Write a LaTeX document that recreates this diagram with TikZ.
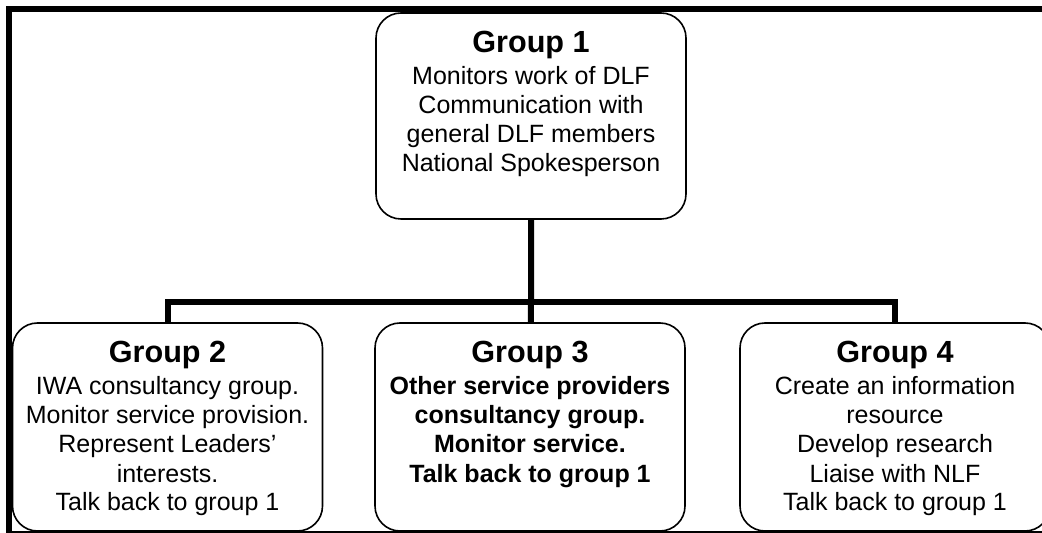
\documentclass[tikz,border=0pt]{standalone}
\usepackage{fontspec}
\setmainfont{Liberation Sans}
\newcommand{\grp}[2]{\begin{tabular}[t]{@{}c@{}}{\fontsize{15.3}{17}\selectfont\bfseries #1}\\[1.5pt]#2\end{tabular}}

\begin{document}
\begin{tikzpicture}[x=0.5pt,y=-0.5pt,
  box/.style={draw,line width=0.8pt,rounded corners=12.5pt,minimum width=155pt,
    inner sep=0pt,text height=20pt,anchor=base,font=\fontsize{12.5}{14.5}\selectfont},
  link/.style={line width=3pt}]
\useasboundingbox (0,0) rectangle (1042,533);
\draw[line width=3pt] (9,9) rectangle (1048,534);
\node[box,text depth=83pt] (g1) at (531,53)
  {\grp{Group 1}{Monitors work of DLF\\Communication with\\general DLF members\\National Spokesperson}};
\node[box,text depth=84pt] (g2) at (167.5,363)
  {\grp{Group 2}{IWA consultancy group.\\Monitor service provision.\\Represent Leaders’\\interests.\\Talk back to group 1}};
\node[box,text depth=84pt] (g3) at (530,363)
  {\grp{Group 3}{\bfseries Other service providers\\\bfseries consultancy group.\\\bfseries Monitor service.\\\bfseries Talk back to group 1}};
\node[box,text depth=84pt] (g4) at (895,363)
  {\grp{Group 4}{Create an information\\resource\\Develop research\\Liaise with NLF\\Talk back to group 1}};
\coordinate (split) at (531,302);
\draw[link] (g1) -- (split) -- (g3);
\draw[link] (g2) |- (split) -| (g4);
\end{tikzpicture}
\end{document}
